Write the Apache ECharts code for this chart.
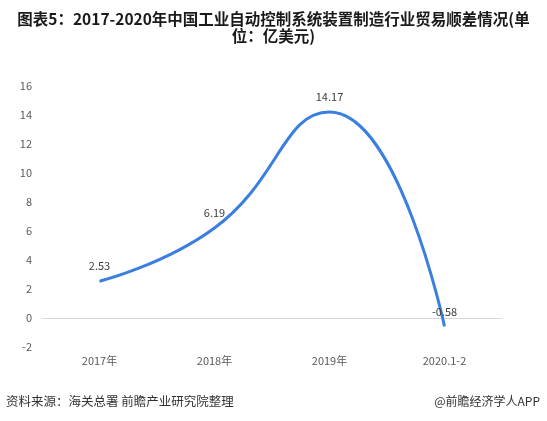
<!DOCTYPE html>
<html>
<head>
<meta charset="utf-8">
<script src="https://cdn.jsdelivr.net/npm/echarts@6/dist/echarts.min.js"></script>
<style>
html,body{margin:0;padding:0;background:#fff;}
#c{width:547px;height:421px;}
</style>
</head>
<body>
<div id="c"></div>
<script>
const categories = ['2017年', '2018年', '2019年', '2020.1-2'];
const values = [2.53, 6.19, 14.17, -0.58];
const yTicks = { min: -2, max: 16, interval: 2 };
const titleText = '图表5：2017-2020年中国工业自动控制系统装置制造行业贸易顺差情况(单\n位：亿美元)';
const sourceText = '资料来源：海关总署 前瞻产业研究院整理';
const brandText = '@前瞻经济学人APP';

const chart = echarts.init(document.getElementById('c'), null, { renderer: 'canvas' });
const font = '"Noto Sans CJK SC", "Microsoft YaHei", sans-serif';
chart.setOption({
  animation: false,
  backgroundColor: '#ffffff',
  title: [{
    text: titleText,
    left: 'center',
    top: 6,
    textStyle: { fontFamily: font, fontSize: 15.5, fontWeight: 'bold', color: '#1a1a1a', lineHeight: 17 }
  }],
  graphic: [
    { type: 'text', left: 6, top: 395, style: { text: sourceText, font: '12.5px ' + font, fill: '#333' } },
    { type: 'text', right: 7, top: 395, style: { text: brandText, font: '12px ' + font, fill: '#333' } }
  ],
  grid: { left: 42, right: 45, top: 85.5, bottom: 74, containLabel: false },
  xAxis: {
    type: 'category',
    data: categories,
    boundaryGap: true,
    axisLine: { show: true, onZero: true, lineStyle: { color: '#d9d9d9', width: 1 } },
    axisTick: { show: false },
    axisLabel: { show: true, color: '#595959', fontSize: 11, fontFamily: font, margin: 8 }
  },
  yAxis: {
    type: 'value',
    min: yTicks.min, max: yTicks.max, interval: yTicks.interval,
    axisLine: { show: false },
    axisTick: { show: false },
    splitLine: { show: false },
    axisLabel: { color: '#595959', fontSize: 11, fontFamily: font, margin: 10 }
  },
  series: [{
    type: 'line',
    data: values,
    smooth: 0.5,
    symbol: 'circle',
    symbolSize: 1,
    showSymbol: true,
    itemStyle: { color: 'rgba(0,0,0,0)' },
    lineStyle: { color: '#3a7fe0', width: 3 },
    label: { show: true, position: 'top', distance: 9, color: '#404040', fontSize: 11, fontFamily: font }
  }]
});
</script>
</body>
</html>
